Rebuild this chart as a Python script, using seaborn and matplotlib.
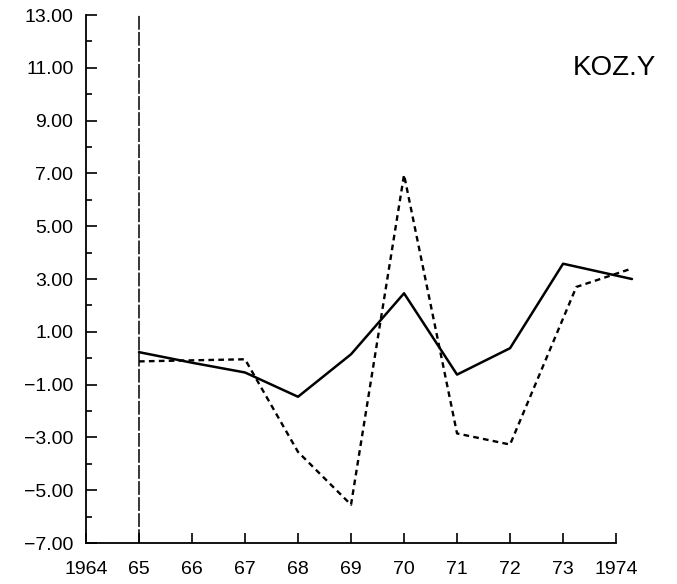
import numpy as np
import pandas as pd
import matplotlib
matplotlib.use('Agg')
import matplotlib.pyplot as plt
import seaborn as sns

# ── Data ──────────────────────────────────────────────────────
solid_years = [1965, 1966, 1967, 1968, 1969, 1970, 1971, 1972, 1973, 1974.3]
solid_vals = [0.23, -0.17, -0.54, -1.46, 0.15, 2.46, -0.62, 0.38, 3.58, 3.0]

dashed_years = [1965, 1966, 1967, 1968, 1969, 1970, 1971, 1972, 1973.25, 1974.3]
dashed_vals = [-0.12, -0.08, -0.04, -3.55, -5.55, 6.95, -2.85, -3.27, 2.7, 3.4]

x_ticks = [1964, 1965, 1966, 1967, 1968, 1969, 1970, 1971, 1972, 1973, 1974]
x_labels = ['1964', '65', '66', '67', '68', '69', '70', '71', '72', '73', '1974']
y_ticks = [-7, -5, -3, -1, 1, 3, 5, 7, 9, 11, 13]
y_labels = ['\u22127.00', '\u22125.00', '\u22123.00', '\u22121.00', '1.00', '3.00',
            '5.00', '7.00', '9.00', '11.00', '13.00']
series_label = 'KOZ.Y'

# ── Plot ──────────────────────────────────────────────────────
sns.set_style('white')
plt.rcParams['font.family'] = ['Liberation Sans', 'DejaVu Sans']

fig = plt.figure(figsize=(6.77, 5.84), dpi=100)
ax = fig.add_axes([0.127, 0.0702, 0.848, 0.904])

df_solid = pd.DataFrame({'year': solid_years, 'value': solid_vals})
df_dashed = pd.DataFrame({'year': dashed_years, 'value': dashed_vals})

sns.lineplot(data=df_solid, x='year', y='value', ax=ax, color='black',
             linewidth=1.8, sort=False)
sns.lineplot(data=df_dashed, x='year', y='value', ax=ax, color='black',
             linewidth=1.7, sort=False)
ax.lines[-1].set_dashes((2.4, 1.8))

# vertical marker at 1965
ax.axvline(1965, color='black', linewidth=1.1, dashes=(9, 1.5))

ax.set_xlim(1964, 1974.83)
ax.set_ylim(-7, 13)
ax.set_xticks(x_ticks)
ax.set_xticklabels(x_labels, fontsize=14, color='black')
ax.set_yticks(y_ticks)
ax.set_yticklabels(y_labels, fontsize=14, color='black')
ax.set_yticks(np.arange(-6, 13, 2), minor=True)
ax.tick_params(axis='y', which='major', direction='in', length=8, width=1.2,
               pad=9, left=True, color='black')
ax.tick_params(axis='y', which='minor', direction='in', length=4, width=1.2,
               left=True, color='black')
ax.tick_params(axis='x', which='major', direction='in', length=7, width=1.2,
               pad=13, bottom=True, color='black')
ax.set_xlabel('')
ax.set_ylabel('')

for side in ['top', 'right']:
    ax.spines[side].set_visible(False)
for side in ['left', 'bottom']:
    ax.spines[side].set_color('black')
    ax.spines[side].set_linewidth(1.3)
ax.spines['bottom'].set_bounds(1964, 1974)

ax.text(1974.75, 11.0, series_label, fontsize=20, ha='right', va='center',
        color='black')

plt.savefig('out.png', dpi=100)
